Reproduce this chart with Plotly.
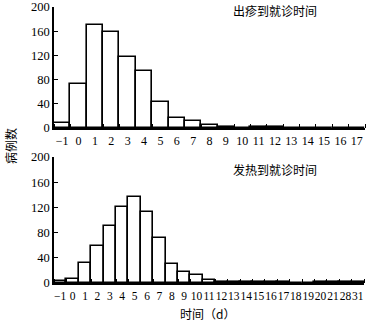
import plotly.graph_objects as go

top_labels = ["-1", "0", "1", "2", "3", "4", "5", "6", "7", "8", "9", "10", "11", "12", "13", "14", "15", "16", "17"]
top_values = [8, 72, 171, 158, 118, 95, 43, 17, 12, 5, 1, 0, 1, 1, 0, 0, 0, 0, 0]

bot_labels = ["-1", "0", "1", "2", "3", "4", "5", "6", "7", "8", "9", "10", "11", "12", "13", "14", "15", "16", "17", "18", "19", "20", "21", "28", "31"]
bot_values = [3, 7, 31, 58, 90, 120, 137, 112, 71, 30, 17, 12, 5, 2, 2, 1, 2, 1, 1, 0, 0, 1, 1, 1, 1]

top_title = "出疹到就诊时间"
bot_title = "发热到就诊时间"
x_title = "时间（d）"
y_title = "病例数"

FONT = "Liberation Serif, Times New Roman, serif"
CJK = "Noto Sans CJK SC"

fig = go.Figure()
fig.add_trace(go.Bar(x=list(range(len(top_values))), y=top_values, width=1,
                     marker=dict(color="white", line=dict(color="black", width=1.6)),
                     xaxis="x", yaxis="y", showlegend=False, hoverinfo="skip"))
fig.add_trace(go.Bar(x=list(range(len(bot_values))), y=bot_values, width=1,
                     marker=dict(color="white", line=dict(color="black", width=1.6)),
                     xaxis="x2", yaxis="y2", showlegend=False, hoverinfo="skip"))

def xaxis(labels, domain, anchor, size):
    n = len(labels)
    return dict(domain=domain, anchor=anchor, range=[-0.5, n - 0.5], automargin=False,
                tickmode="array", tickvals=list(range(n)), ticktext=[l.replace("-", "−") for l in labels],
                ticks="", showgrid=False, zeroline=False, tickangle=0, ticklabelstandoff=1,
                ticklabeloverflow="allow",
                showline=True, linecolor="black", linewidth=1.5,
                tickfont=dict(family=FONT, size=size, color="black"),
                minor=dict(ticks="inside", tick0=-0.5, dtick=1, ticklen=4, tickcolor="black", tickwidth=1.2, showgrid=False))

def yaxis(domain, anchor):
    return dict(domain=domain, anchor=anchor, range=[0, 200], tickmode="array", automargin=False,
                tickvals=[0, 40, 80, 120, 160, 200], ticks="inside", ticklen=4, tickwidth=1.2,
                ticklabeloverflow="allow",
                tickcolor="black", showgrid=False, zeroline=False,
                showline=True, linecolor="black", linewidth=1.5,
                tickfont=dict(family=FONT, size=12.5, color="black"))

def ann(text, x, y, angle=0):
    return dict(text=text, x=x / 384, y=1 - y / 324, xref="paper", yref="paper",
                xanchor="center", yanchor="middle", textangle=angle,
                showarrow=False, font=dict(family=CJK, size=12, color="black"))

fig.update_layout(
    width=384, height=324, margin=dict(l=0, r=0, t=0, b=0),
    paper_bgcolor="white", plot_bgcolor="white", bargap=0,
    xaxis=xaxis(top_labels, [54 / 384, 365 / 384], "y", 12),
    yaxis=yaxis([1 - 128 / 324, 1 - 7 / 324], "x"),
    xaxis2=xaxis(bot_labels, [54 / 384, 364 / 384], "y2", 11.5),
    yaxis2=yaxis([1 - 283 / 324, 1 - 157 / 324], "x2"),
    annotations=[
        ann(top_title, 275, 10),
        ann(bot_title, 275, 169),
        ann(x_title, 207, 313),
        ann(y_title, 10, 146, -90),
    ],
)
fig.write_html("out.html", config={"displayModeBar": False},
               post_script="document.body.style.margin='0';document.body.style.padding='0';")
